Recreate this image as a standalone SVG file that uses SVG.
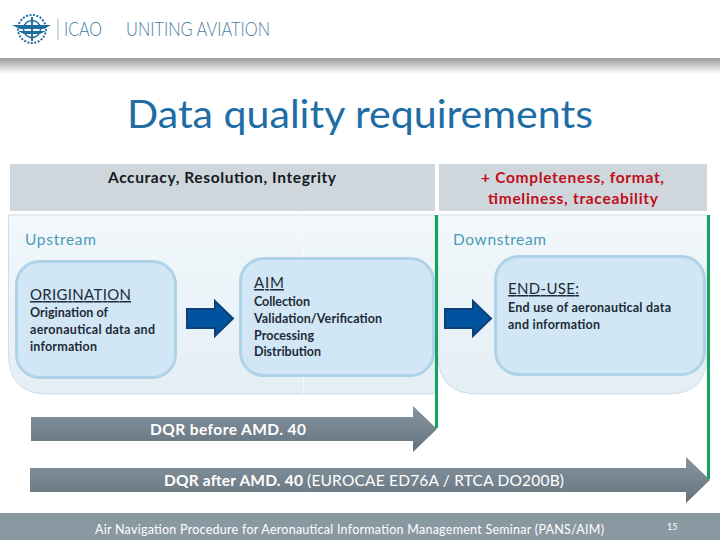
<svg xmlns="http://www.w3.org/2000/svg" width="720" height="540" viewBox="0 0 720 540">
<style>
text{font-family:"Lato","Liberation Sans",sans-serif}
.head{font-size:15.500px;font-weight:700}
.stream{font-size:15.500px;fill:#4a9ab8}
.node{fill:#d2e7f5;stroke:#aed3e9;stroke-width:3}
.ttl{font-size:15px;fill:#1d2b36;text-decoration:underline}
.body{font-size:12.500px;font-weight:700;fill:#1d2b36}
.bar{font-size:15.500px;fill:#fff}
.b{font-weight:700}
.panel{fill:url(#panel);stroke:#cfdde6;stroke-width:1}
.blue{fill:#00549f;stroke:#0f3f78;stroke-width:2}
.grey{fill:url(#grey)}
.green{stroke:#17a35f;stroke-width:3;fill:none}
.thin{font-weight:300}
</style>
<defs>
<linearGradient id="band" x1="0" y1="0" x2="0" y2="1"><stop offset="0" stop-color="#9a9a9a"/><stop offset="1" stop-color="#fff"/></linearGradient>
<linearGradient id="panel" x1="0" y1="0" x2="0" y2="1"><stop offset="0" stop-color="#f2f8fb"/><stop offset="1" stop-color="#e3eef5"/></linearGradient>
<linearGradient id="grey" x1="0" y1="0" x2="0" y2="1"><stop offset="0" stop-color="#8595a0"/><stop offset="1" stop-color="#65737d"/></linearGradient>
</defs>
<rect width="720" height="540" fill="#fff"/>
<g id="header">
<rect x="0" y="58" width="720" height="16" fill="url(#band)"/>
<g id="logo" fill="none" stroke="#1f6c9f">
<circle cx="32" cy="29" r="14" stroke-width="2" stroke-dasharray="2 1.500"/>
<circle cx="32" cy="29" r="8.500" stroke-width="1.500"/>
<path d="M12 25H51L44 29H20ZM18 31H46L40 34H24Z" fill="#1f6c9f" stroke="none"/>
<path d="M32 17V41" stroke-width="2"/>
</g>
<rect x="57.500" y="19" width="1" height="21" fill="#a5b5c0"/>
<text class="thin" x="64" y="36" font-size="20" fill="#3d7ba6" textLength="38" lengthAdjust="spacingAndGlyphs">ICAO</text>
<text class="thin" x="126" y="36" font-size="20" fill="#4d7d9e" textLength="144" lengthAdjust="spacingAndGlyphs">UNITING AVIATION</text>
<text x="127" y="128" font-size="39" fill="#1f6da5" textLength="466" lengthAdjust="spacingAndGlyphs">Data quality requirements</text>
</g>
<g id="panels">
<rect x="10" y="164" width="425" height="47" fill="#cfd6dc"/>
<rect x="439" y="164" width="268" height="47" fill="#cfd6dc"/>
<path class="panel" d="M8.500 215H435V394H48Q8.500 394 8.500 354Z"/>
<path d="M303.500 215V394" stroke="#f6fafc" stroke-width="1"/>
<path class="panel" d="M438 215H707V355Q707 394 668 394H478Q438 394 438 355Z"/>
<text class="head" x="108" y="183" fill="#14191e" textLength="228">Accuracy, Resolution, Integrity</text>
<text class="head" x="481" y="183" fill="#c00d18" textLength="183">+ Completeness, format,</text>
<text class="head" x="488" y="204" fill="#c00d18" textLength="170">timeliness, traceability</text>
<text class="stream" x="25" y="245" textLength="71">Upstream</text>
<text class="stream" x="453" y="245" textLength="93">Downstream</text>
</g>
<g id="origination">
<rect class="node" x="16.500" y="261.500" width="159" height="116" rx="23"/>
<text class="ttl" x="30" y="300" textLength="101">ORIGINATION</text>
<text class="body" x="30" y="317" textLength="78">Origination of</text>
<text class="body" x="30" y="334" textLength="125">aeronautical data and</text>
<text class="body" x="30" y="351" textLength="67">information</text>
</g>
<g id="aim">
<rect class="node" x="240.500" y="258.500" width="193" height="117" rx="23"/>
<text class="ttl" x="254" y="288" textLength="30">AIM</text>
<text class="body" x="254" y="306" textLength="56">Collection</text>
<text class="body" x="254" y="323" textLength="128">Validation/Verification</text>
<text class="body" x="254" y="340" textLength="60">Processing</text>
<text class="body" x="254" y="356" textLength="67">Distribution</text>
</g>
<g id="end-use">
<rect class="node" x="495.500" y="256.500" width="209" height="118" rx="23"/>
<text class="ttl" x="508" y="294" textLength="71">END-USE:</text>
<text class="body" x="508" y="312" textLength="163">End use of aeronautical data</text>
<text class="body" x="508" y="329" textLength="92">and information</text>
</g>
<g id="connectors">
<path class="blue" d="M187 309H215V301L233 318.500L215 336V328H187Z"/>
<path class="blue" d="M445 309H473V301L491 318.500L473 336V328H445Z"/>
<path class="grey" d="M31 417H413V406L437 429L413 452V441H31Z"/>
<path class="grey" d="M30 468H686V457L710 480L686 503V492H30Z"/>
<path class="green" d="M436.500 215V428"/>
<path class="green" d="M708.500 215V479"/>
</g>
<g id="bars">
<text class="bar b" x="150" y="435" textLength="156">DQR before AMD. 40</text>
<text class="bar" x="164" y="486" textLength="400"><tspan class="b">DQR after AMD. 40 </tspan>(EUROCAE ED76A / RTCA DO200B)</text>
</g>
<g id="footer">
<rect x="0" y="513" width="720" height="27" fill="#8a98a2"/>
<text x="95" y="534" font-size="12.500" fill="#fff" textLength="509">Air Navigation Procedure for Aeronautical Information Management Seminar (PANS/AIM)</text>
<text x="667" y="530" font-size="9" fill="#fff">15</text>
</g>
</svg>
